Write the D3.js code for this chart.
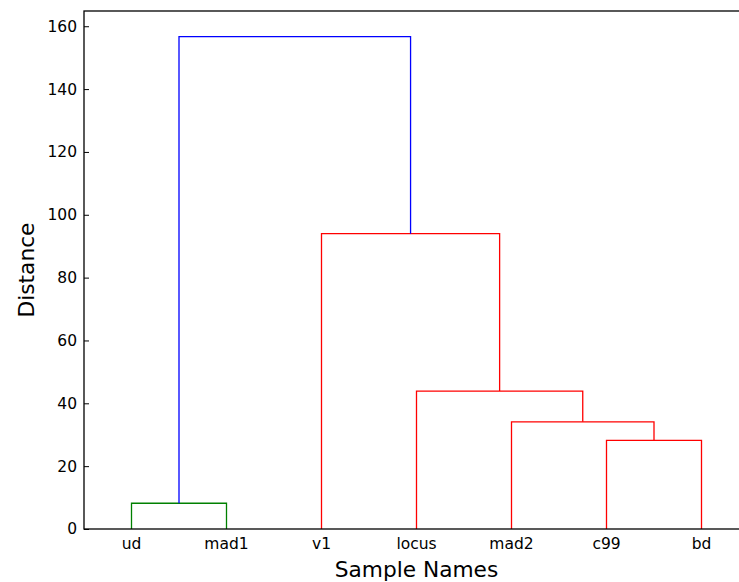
<!DOCTYPE html>
<html>
<head>
<meta charset="utf-8">
<script src="https://cdn.jsdelivr.net/npm/d3@7"></script>
<style>
  body { margin: 0; background: #fff; }
  svg { display: block; font-family: "DejaVu Sans", sans-serif; }
</style>
</head>
<body>
<div id="chart"></div>
<script>
// leaves, left to right
const leafNames = ["ud", "mad1", "v1", "locus", "mad2", "c99", "bd"];

// merges: node ids 0..6 are leaves, merge k makes node 7+k
const mergeLeft   = [0, 5, 4, 3, 2, 7];
const mergeRight  = [1, 6, 8, 9, 10, 11];
const mergeHeight = [8.2, 28.2, 34.1, 43.9, 94.0, 156.7];
const mergeColor  = ["#008000", "#ff0000", "#ff0000", "#ff0000", "#ff0000", "#0000ff"];

const yTicks = [0, 20, 40, 60, 80, 100, 120, 140, 160];

const W = 739, H = 582;
const margin = { top: 11, right: -10, bottom: 53, left: 84 };
const width = W - margin.left - margin.right;   // plot runs a bit past the window
const height = H - margin.top - margin.bottom;

const svg = d3.select("#chart")
    .append("svg")
    .attr("width", W)
    .attr("height", H);

const g = svg.append("g")
    .attr("transform", `translate(${margin.left},${margin.top})`);

// scipy style leaf coords: 5, 15, 25 ...
const xScale = d3.scaleLinear()
    .domain([0, leafNames.length * 10])
    .range([0, width]);

const yScale = d3.scaleLinear()
    .domain([0, d3.max(mergeHeight) * 1.052])
    .range([height, 0]);

// node positions
const nodeX = leafNames.map((d, i) => 5 + 10 * i);
const nodeY = leafNames.map(() => 0);
mergeLeft.forEach((l, k) => {
    const r = mergeRight[k];
    nodeX.push((nodeX[l] + nodeX[r]) / 2);
    nodeY.push(mergeHeight[k]);
});

const links = mergeLeft.map((l, k) => ({
    l: l, r: mergeRight[k], h: mergeHeight[k], color: mergeColor[k]
}));

// draw the U shapes
g.selectAll(".link")
    .data(links)
    .enter()
    .append("path")
    .attr("class", "link")
    .attr("fill", "none")
    .attr("stroke", d => d.color)
    .attr("stroke-width", 1.3)
    .attr("d", d => {
        const x1 = xScale(nodeX[d.l]), x2 = xScale(nodeX[d.r]);
        return `M${x1},${yScale(nodeY[d.l])}V${yScale(d.h)}H${x2}V${yScale(nodeY[d.r])}`;
    });

// y axis, ticks inward
const yAxis = g.append("g")
    .call(d3.axisLeft(yScale).tickValues(yTicks).tickSizeInner(-5).tickSizeOuter(0).tickPadding(7));
yAxis.select(".domain").remove();
yAxis.selectAll("line").attr("stroke", "#000");
yAxis.selectAll("text")
    .style("font-size", "15.5px")
    .style("font-family", "DejaVu Sans")
    .attr("fill", "#000");

// x labels at the leaves, no tick marks
g.selectAll(".leaf")
    .data(leafNames)
    .enter()
    .append("text")
    .attr("x", (d, i) => xScale(nodeX[i]))
    .attr("y", height + 20)
    .attr("text-anchor", "middle")
    .style("font-size", "15.5px")
    .text(d => d);

// frame
g.append("rect")
    .attr("x", 0)
    .attr("y", 0)
    .attr("width", width)
    .attr("height", height)
    .attr("fill", "none")
    .attr("stroke", "#000")
    .attr("stroke-width", 1.3);

// axis labels
g.append("text")
    .attr("x", (W - margin.left) / 2 + 5)
    .attr("y", height + 48)
    .attr("text-anchor", "middle")
    .style("font-size", "21.7px")
    .text("Sample Names");

g.append("text")
    .attr("transform", "rotate(-90)")
    .attr("x", -height / 2)
    .attr("y", -50)
    .attr("text-anchor", "middle")
    .style("font-size", "21.7px")
    .text("Distance");
</script>
</body>
</html>
